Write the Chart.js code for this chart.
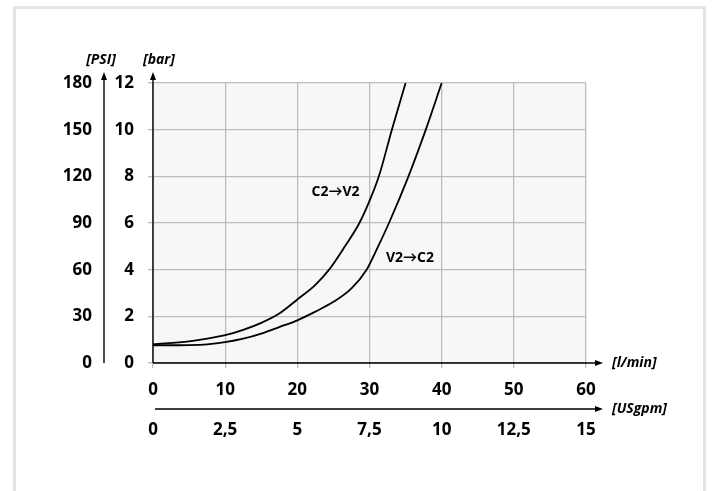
<!DOCTYPE html>
<html>
<head>
<meta charset="utf-8">
<script src="https://cdn.jsdelivr.net/npm/chart.js@4/dist/chart.umd.min.js"></script>
<style>
  html, body { margin:0; padding:0; background:#fff; }
  #frame { position:absolute; left:13px; top:6px; width:687px; height:600px; border:3px solid #e4e4e4; }
  #c { position:absolute; left:0; top:0; }
</style>
</head>
<body>
<div id="frame"></div>
<canvas id="c" width="717" height="491"></canvas>
<script>
// ---- data ----
const flowC2V2 = [0, 5, 7.5, 10, 12.5, 15, 17.5, 20, 22.5, 24.4, 26.6, 28.6, 30, 31.3, 33.1, 35];
const barC2V2  = [0.80, 0.93, 1.04, 1.19, 1.42, 1.72, 2.12, 2.72, 3.35, 4.0, 5.0, 6.0, 6.95, 8.0, 10.0, 12.0];
const flowV2C2 = [0, 5, 7.5, 10, 12.5, 15, 17.5, 20, 22.5, 25, 27.5, 29.6, 31.2, 32.7, 35.4, 37.8, 40];
const barV2C2  = [0.76, 0.77, 0.80, 0.89, 1.04, 1.26, 1.54, 1.83, 2.2, 2.62, 3.2, 4.0, 5.0, 6.0, 8.0, 10.0, 12.0];
const seriesNames = ['C2→V2', 'V2→C2'];
const labelFlow = [25.3, 35.6];
const labelBar  = [7.32, 4.5];
const axisTitles = { psi: '[PSI]', bar: '[bar]', lmin: '[l/min]', usgpm: '[USgpm]' };

const FONT = '"Open Sans", Lato, sans-serif';
const tickFont = { family: FONT, size: 17, weight: 'bold' };
const GRID = '#bdbdbd';

function toPoints(xs, ys) { return xs.map((x, i) => ({ x: x, y: ys[i] })); }

const deco = {
  id: 'deco',
  beforeDraw(chart) {
    const { ctx, chartArea: a } = chart;
    ctx.save();
    ctx.fillStyle = '#f7f7f7';
    ctx.fillRect(a.left, a.top, a.right - a.left, a.bottom - a.top);
    ctx.restore();
  },
  afterDraw(chart) {
    const { ctx, chartArea: a, scales } = chart;
    const tipY = a.top - 11, tipX = a.right + 17;
    const psiX = scales.y2.right;
    const usY = scales.x2.top;
    ctx.save();
    ctx.strokeStyle = '#000';
    ctx.fillStyle = '#000';
    ctx.lineWidth = 1.4;
    function vline(x, y0, y1) {
      ctx.beginPath(); ctx.moveTo(x, y0); ctx.lineTo(x, y1 + 6); ctx.stroke();
      ctx.beginPath(); ctx.moveTo(x, y1); ctx.lineTo(x - 3, y1 + 8); ctx.lineTo(x + 3, y1 + 8); ctx.closePath(); ctx.fill();
    }
    function hline(y, x0, x1) {
      ctx.beginPath(); ctx.moveTo(x0, y); ctx.lineTo(x1 - 6, y); ctx.stroke();
      ctx.beginPath(); ctx.moveTo(x1, y); ctx.lineTo(x1 - 8, y - 3); ctx.lineTo(x1 - 8, y + 3); ctx.closePath(); ctx.fill();
    }
    vline(a.left, a.bottom, tipY);
    vline(psiX, a.bottom, tipY);
    hline(a.bottom, a.left, tipX);
    hline(usY, a.left + 2, tipX);

    ctx.font = 'italic bold 14px ' + FONT;
    ctx.textBaseline = 'middle';
    ctx.textAlign = 'center';
    ctx.fillText(axisTitles.psi, psiX - 3, tipY - 12);
    ctx.textAlign = 'left';
    ctx.fillText(axisTitles.bar, a.left - 10, tipY - 12);
    ctx.fillText(axisTitles.lmin, tipX + 9, a.bottom);
    ctx.fillText(axisTitles.usgpm, tipX + 9, usY);

    ctx.font = 'bold 14px ' + FONT;
    ctx.textAlign = 'center';
    seriesNames.forEach((n, i) => {
      ctx.fillText(n, scales.x.getPixelForValue(labelFlow[i]), scales.y.getPixelForValue(labelBar[i]));
    });
    ctx.restore();
  }
};

new Chart(document.getElementById('c'), {
  type: 'scatter',
  data: {
    datasets: [
      { label: seriesNames[0], data: toPoints(flowC2V2, barC2V2) },
      { label: seriesNames[1], data: toPoints(flowV2C2, barV2C2) }
    ]
  },
  options: {
    responsive: false,
    animation: false,
    devicePixelRatio: 1,
    layout: { padding: { left: 14, top: 83, right: 131, bottom: 32 } },
    elements: {
      point: { radius: 0 },
      line: { borderColor: '#000', borderWidth: 1.8, cubicInterpolationMode: 'monotone', fill: false }
    },
    datasets: { scatter: { showLine: true, borderColor: '#000', xAxisID: 'x', yAxisID: 'y' } },
    plugins: { legend: { display: false }, tooltip: { enabled: false } },
    scales: {
      x: {
        type: 'linear', position: 'bottom', min: 0, max: 60, weight: 0,
        ticks: { stepSize: 10, font: tickFont, color: '#000', padding: 12, maxRotation: 0, autoSkip: false },
        grid: { color: GRID, lineWidth: 1.3, tickLength: 5 },
        border: { display: false },
        afterFit: s => { s.height = 46; }
      },
      x2: {
        type: 'linear', position: 'bottom', min: 0, max: 15, weight: 1,
        ticks: { stepSize: 2.5, font: tickFont, color: '#000', padding: 11, maxRotation: 0, autoSkip: false,
                 callback: v => String(v).replace('.', ',') },
        grid: { display: false, drawTicks: false },
        border: { display: false },
        afterFit: s => { s.height = 50; }
      },
      y: {
        type: 'linear', position: 'left', min: 0, max: 12, weight: 0,
        ticks: { stepSize: 2, font: tickFont, color: '#000', padding: 14, autoSkip: false },
        grid: { color: GRID, lineWidth: 1.3, tickLength: 5 },
        border: { display: false },
        afterFit: s => { s.width = 49; }
      },
      y2: {
        type: 'linear', position: 'left', min: 0, max: 180, weight: 1,
        ticks: { stepSize: 30, font: tickFont, color: '#000', padding: 12, autoSkip: false },
        grid: { display: false, drawTicks: false },
        border: { display: false },
        afterFit: s => { s.width = 90; }
      }
    }
  },
  plugins: [deco]
});
</script>
</body>
</html>
